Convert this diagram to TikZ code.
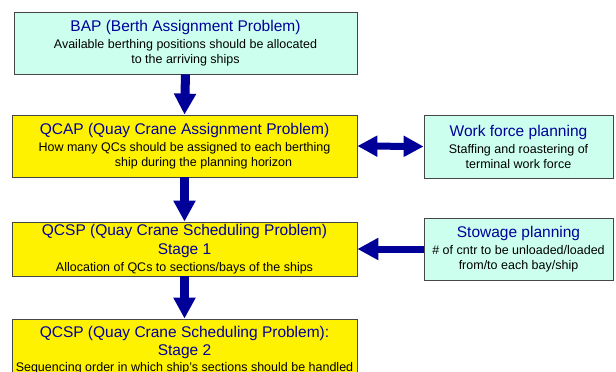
\documentclass[tikz,border=0pt]{standalone}
\usepackage{fontspec}
\setmainfont{Liberation Sans}
\usepackage{tikz}
\usetikzlibrary{arrows.meta,positioning}
\usepackage{xcolor}

\definecolor{navyblue}{RGB}{0,0,153}
\definecolor{paleaqua}{RGB}{204,255,238}
\definecolor{boxline}{RGB}{70,70,70}
\newcommand{\boxtitle}[1]{{\fontsize{15.5}{17}\selectfont\color{navyblue}#1}}

\tikzset{
  probbox/.style={draw=boxline, line width=0.8pt, fill=yellow, minimum width=345pt,
    minimum height=62pt, align=center, inner sep=0pt, font=\fontsize{12.5}{15}\selectfont},
  planbox/.style={probbox, fill=paleaqua, minimum width=189pt},
  fatarrow/.style={draw=navyblue, line width=7pt, -{Triangle[width=21pt,length=21pt]}}
}

\begin{document}
\begin{tikzpicture}[x=1pt,y=-1pt]
\useasboundingbox (0,0) rectangle (616,372);

% problems
\node[planbox, minimum width=343pt] (bap) at (185.5,43)
  {\boxtitle{BAP (Berth Assignment Problem)}\\[2pt]
   Available berthing positions should be allocated\\ to the arriving ships};
\node[probbox] (qcap) at (184.5,146)
  {\boxtitle{QCAP (Quay Crane Assignment Problem)}\\[2pt]
   How many QCs should be assigned to each berthing\\ \hspace*{38pt}ship during the planning horizon};
\node[probbox, minimum height=54pt] (qcsp1) at (184.5,249)
  {\boxtitle{QCSP (Quay Crane Scheduling Problem)}\\[4pt]\boxtitle{Stage 1}\\[2pt]
   Allocation of QCs to sections/bays of the ships};
\node[probbox] (qcsp2) at (184.5,350)
  {\boxtitle{QCSP (Quay Crane Scheduling Problem):}\\[3pt]\boxtitle{Stage 2}\\[1pt]
   Sequencing order in which ship’s sections should be handled};

% planning
\node[planbox, minimum height=63pt] (work) at (518.5,146.5)
  {\boxtitle{Work force planning}\\[2pt] Staffing and roastering of\\ terminal work force};
\node[planbox] (stow) at (518.5,249)
  {\boxtitle{Stowage planning}\\[2pt] \# of cntr to be unloaded/loaded\\ from/to each bay/ship};

% arrows
\draw[fatarrow, line width=9pt] (bap.south) -- (qcap.north);
\draw[fatarrow, line width=9pt] (qcap.south) -- (qcsp1.north);
\draw[fatarrow, line width=9pt] (qcsp1.south) -- (qcsp2.north);
\draw[fatarrow, {Triangle[width=20pt,length=20pt]}-{Triangle[width=20pt,length=20pt]}] (qcap.east) -- (work.west);
\draw[fatarrow] (stow.west) -- (qcsp1.east);

\end{tikzpicture}
\end{document}
